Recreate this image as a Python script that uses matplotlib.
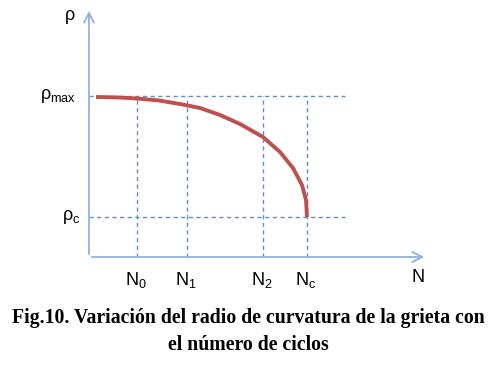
import matplotlib.pyplot as plt

# curve: number of cycles vs radius of curvature
n_vals = [7, 30, 48, 70, 91, 111, 131, 151, 174, 191, 204, 213, 217, 218]
rho_vals = [160, 159.5, 158.5, 156.5, 153, 149, 142, 133, 120, 105, 89, 72, 57, 40]

n_ticks = [48, 98, 174, 218]
n_labels = ["N$_0$", "N$_1$", "N$_2$", "N$_\\mathregular{c}$"]
rho_max = 161
rho_c = 40

plt.rcParams['font.family'] = ['Liberation Sans', 'DejaVu Sans']
plt.rcParams['mathtext.fontset'] = 'custom'
plt.rcParams['mathtext.rm'] = 'Liberation Sans'
plt.rcParams['mathtext.it'] = 'Liberation Sans'

fig = plt.figure(figsize=(4.93, 3.66), dpi=100)
ax = fig.add_axes([0, 0, 1, 1])
ax.set_xlim(-89, 404)
ax.set_ylim(-109, 257)
ax.axis('off')

axis_col = '#8db3e2'
dash_col = '#5b8fcf'

# axes arrows
ax.annotate('', xy=(338, 0), xytext=(0, 0),
            arrowprops=dict(arrowstyle='->', color=axis_col, lw=1.3, mutation_scale=18))
ax.annotate('', xy=(0, 249), xytext=(0, 0),
            arrowprops=dict(arrowstyle='->', color=axis_col, lw=1.3, mutation_scale=18))

# dashed guides
for y in [rho_max, rho_c]:
    ax.plot([0, 256], [y, y], ls=(0, (3, 2.5)), color=dash_col, lw=1)
for x in n_ticks:
    ax.plot([x, x], [0, rho_max], ls=(0, (3, 2.5)), color=dash_col, lw=1)

# red curve
ax.plot(n_vals, rho_vals, color='#c0504d', lw=2.8, solid_capstyle='butt',
        solid_joinstyle='round')

# labels
fs = 13
for x, lab in zip(n_ticks, n_labels):
    ax.text(x - 1, -23, lab, ha='center', va='center', fontsize=fs)
ax.text(329, -21, "N", ha='center', va='center', fontsize=fs)
ax.text(-19, 242, "ρ", ha='center', va='center', fontsize=fs)
ax.text(-31, rho_max, "ρ$_{\\mathregular{max}}$", ha='center', va='center', fontsize=fs)
ax.text(-18, rho_c, "ρ$_\\mathregular{c}$", ha='center', va='center', fontsize=fs)

# caption
cap_font = dict(ha='center', va='center', fontsize=14.2, fontweight='bold',
                family='Liberation Serif')
ax.text(159, -61, "Fig.10. Variación del radio de curvatura de la grieta con", **cap_font)
ax.text(159, -88, "el número de ciclos", **cap_font)

fig.savefig('out.png', dpi=100)
